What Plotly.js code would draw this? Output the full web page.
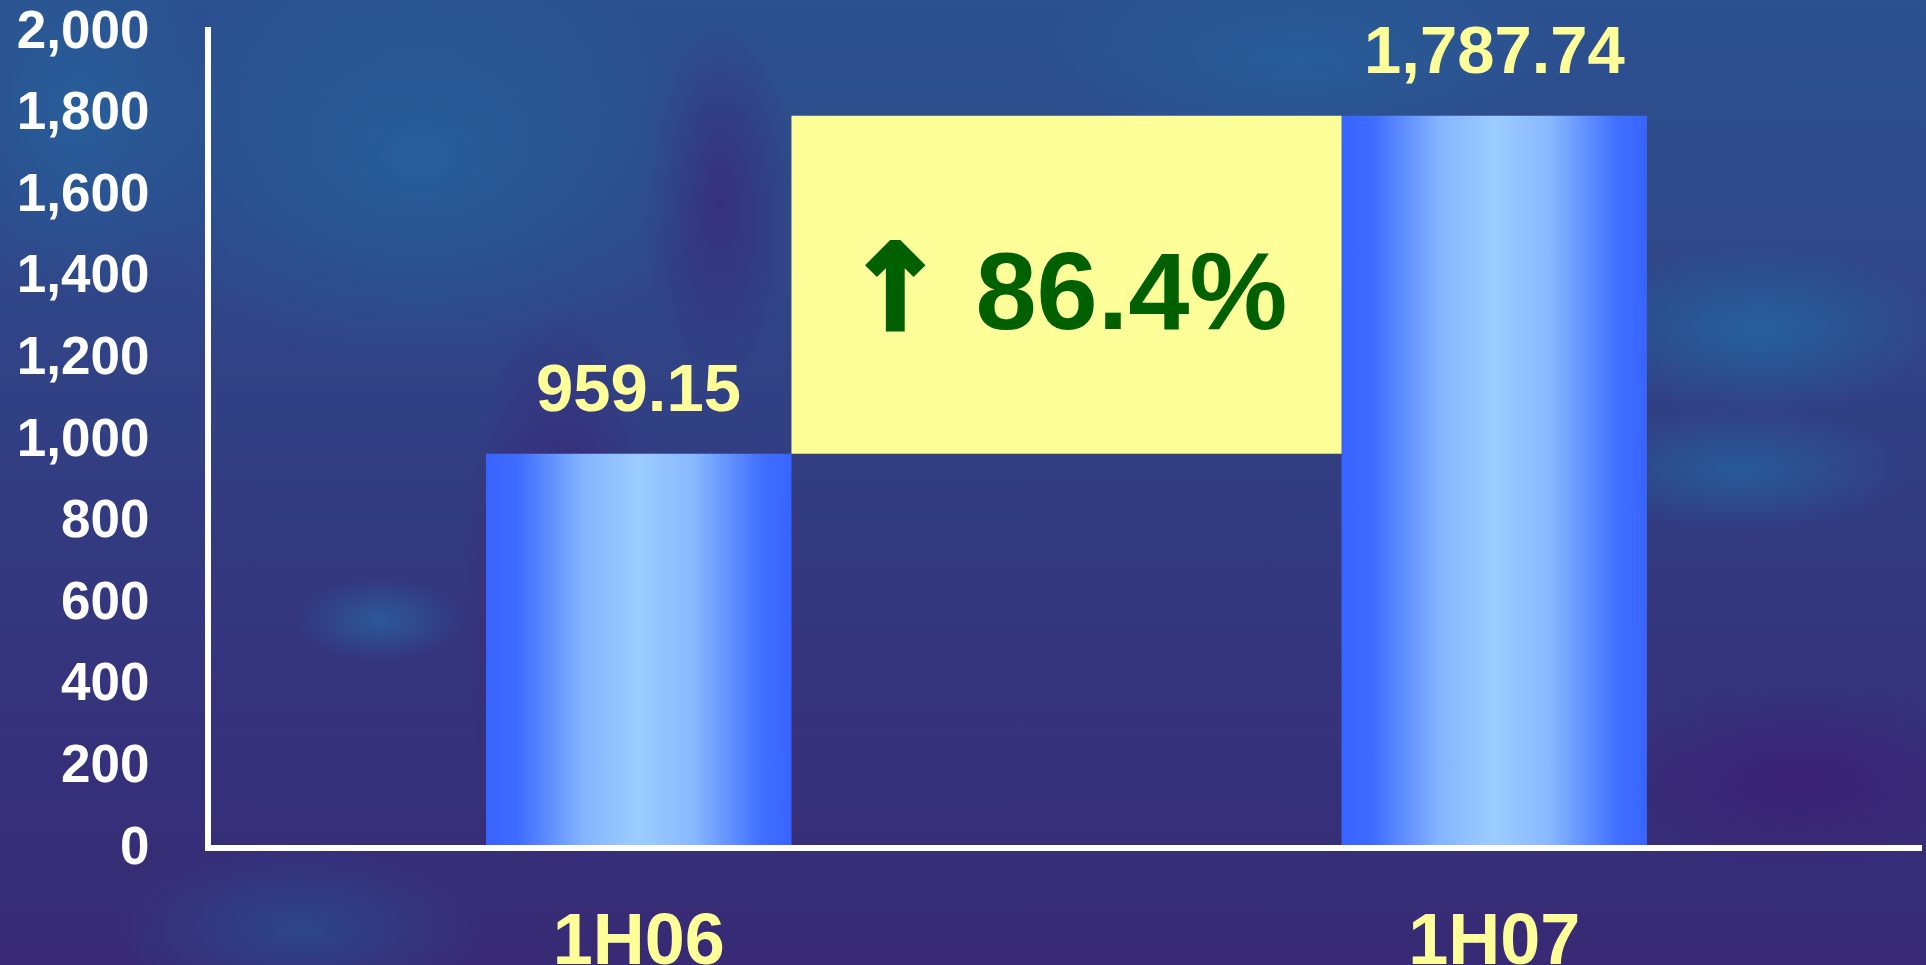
<!DOCTYPE html>
<html>
<head>
<meta charset="utf-8">
<script src="https://cdn.plot.ly/plotly-3.0.1.min.js"></script>
<style>
  html, body {margin: 0; padding: 0;}
  body {
    width: 1926px; height: 965px; overflow: hidden;
    background:
      radial-gradient(ellipse 260px 120px at 1760px 330px, rgba(30,120,175,0.55), rgba(30,120,175,0) 70%),
      radial-gradient(ellipse 240px 90px at 1740px 470px, rgba(30,120,175,0.5), rgba(30,120,175,0) 70%),
      radial-gradient(ellipse 420px 300px at 420px 160px, rgba(32,110,165,0.55), rgba(32,110,165,0) 70%),
      radial-gradient(ellipse 200px 260px at 80px 120px, rgba(32,115,170,0.45), rgba(32,115,170,0) 70%),
      radial-gradient(ellipse 380px 140px at 1300px 60px, rgba(32,110,165,0.45), rgba(32,110,165,0) 70%),
      radial-gradient(ellipse 140px 420px at 560px 600px, rgba(62,22,112,0.6), rgba(62,22,112,0) 70%),
      radial-gradient(ellipse 110px 260px at 720px 200px, rgba(62,22,112,0.5), rgba(62,22,112,0) 70%),
      radial-gradient(ellipse 300px 140px at 1800px 780px, rgba(62,22,112,0.55), rgba(62,22,112,0) 70%),
      radial-gradient(ellipse 120px 60px at 380px 620px, rgba(35,130,185,0.45), rgba(35,130,185,0) 70%),
      radial-gradient(ellipse 260px 120px at 300px 930px, rgba(30,110,170,0.4), rgba(30,110,170,0) 70%),
      linear-gradient(180deg, #2c5190 0%, #2f4889 25%, #333a80 55%, #36307a 80%, #382a74 100%);
  }
  #chart {width: 1926px; height: 965px;}
</style>
</head>
<body>
<div id="chart"></div>
<script>
// half-year totals
const periods = ['1H06', '1H07'];
const totals = [959.15, 1787.74];
const yTicks = [0, 200, 400, 600, 800, 1000, 1200, 1400, 1600, 1800, 2000];

const barWidth = 0.357;
const growth = (totals[1] / totals[0] - 1) * 100;

const fontFamily = 'Liberation Sans, Arial, sans-serif';

var trace = {
    x: periods,
    y: totals,
    type: 'bar',
    width: barWidth,
    marker: {color: '#6f9bff', line: {width: 0}},
    hoverinfo: 'none'
};

//value labels above each bar
var valueLabels = periods.map(function(p, i) {
    return {
        x: p,
        y: totals[i],
        xref: 'x',
        yref: 'y',
        text: totals[i].toLocaleString('en-US', {minimumFractionDigits: 2, maximumFractionDigits: 2}),
        showarrow: false,
        yanchor: 'bottom',
        yshift: 27,
        font: {family: fontFamily, size: 67, color: '#ffff99', weight: 'bold'}
    };
});

var growthLabel = {
    x: 0.5,
    y: (totals[0] + totals[1]) / 2,
    xref: 'x',
    yref: 'y',
    text: '<span style="font-family:DejaVu Sans;font-size:118px;stroke:#006000;stroke-width:5px">\u2191</span> ' + growth.toFixed(1) + '%',
    showarrow: false,
    yshift: -3,
    font: {family: fontFamily, size: 110, color: '#006000', weight: 'bold'}
};

var layout = {
    width: 1926,
    height: 965,
    margin: {l: 211, r: 4, t: 27, b: 120},
    paper_bgcolor: 'rgba(0,0,0,0)',
    plot_bgcolor: 'rgba(0,0,0,0)',
    showlegend: false,
    xaxis: {
        type: 'category',
        range: [-0.5, 1.5],
        showgrid: false,
        zeroline: false,
        showline: true,
        linecolor: '#ffffff',
        linewidth: 6,
        ticks: '',
        ticklabelstandoff: 27,
        ticklabeloverflow: 'allow',
        tickfont: {family: fontFamily, size: 72, color: '#ffff99', weight: 'bold'}
    },
    yaxis: {
        range: [0, 2005],
        tickvals: yTicks,
        ticktext: yTicks.map(function(v) { return v.toLocaleString('en-US'); }),
        showgrid: false,
        zeroline: false,
        showline: true,
        linecolor: '#ffffff',
        linewidth: 6,
        ticks: '',
        ticklabelstandoff: 45,
        ticklabeloverflow: 'allow',
        tickfont: {family: fontFamily, size: 53, color: '#ffffff', weight: 'bold'}
    },
    shapes: [{
        type: 'rect',
        xref: 'x',
        yref: 'y',
        x0: 0 + barWidth / 2,
        x1: 1 - barWidth / 2,
        y0: totals[0],
        y1: totals[1],
        fillcolor: '#ffff99',
        line: {width: 0},
        layer: 'above'
    }],
    annotations: valueLabels.concat([growthLabel])
};

Plotly.newPlot('chart', [trace], layout, {displayModeBar: false, staticPlot: true}).then(function(gd) {
    // horizontal shading on the bars
    var svg = gd.querySelector('.main-svg');
    var ns = 'http://www.w3.org/2000/svg';
    var defs = svg.querySelector('defs') || svg.insertBefore(document.createElementNS(ns, 'defs'), svg.firstChild);
    var grad = document.createElementNS(ns, 'linearGradient');
    grad.setAttribute('id', 'barShade');
    grad.setAttribute('x1', '0'); grad.setAttribute('y1', '0');
    grad.setAttribute('x2', '1'); grad.setAttribute('y2', '0');
    [[0, '#3864ff'], [0.1, '#3e6bff'], [0.32, '#84b4ff'], [0.5, '#9ccdff'], [0.68, '#88b8ff'], [0.9, '#4170ff'], [1, '#3864ff']].forEach(function(s) {
        var stop = document.createElementNS(ns, 'stop');
        stop.setAttribute('offset', s[0]);
        stop.setAttribute('stop-color', s[1]);
        grad.appendChild(stop);
    });
    defs.appendChild(grad);
    gd.querySelectorAll('.bars .point path').forEach(function(p) {
        p.style.fill = 'url(#barShade)';
    });
});
</script>
</body>
</html>
